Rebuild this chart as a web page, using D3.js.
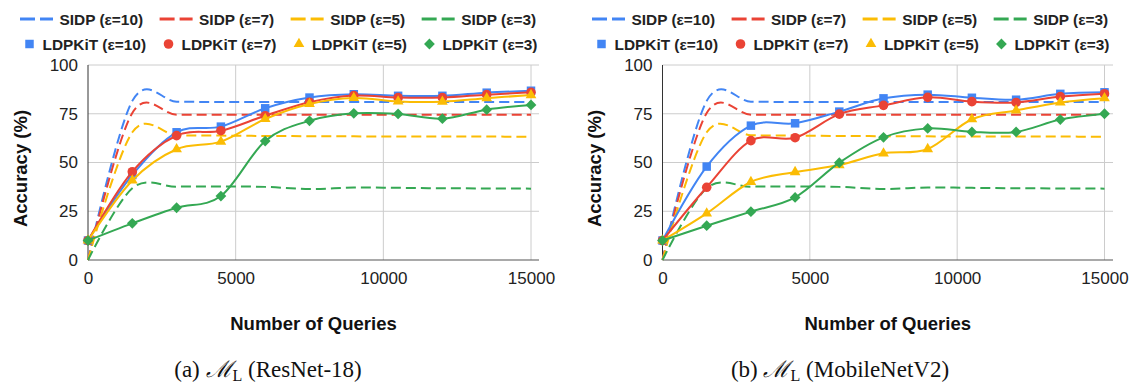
<!DOCTYPE html>
<html>
<head>
<meta charset="utf-8">
<script src="https://cdn.jsdelivr.net/npm/d3@7"></script>
<style>
  body { margin: 0; background: #fff; }
  svg { display: block; }
</style>
</head>
<body>
<svg id="chart" width="1130" height="386"></svg>
<script>
// Number of queries at which accuracy was measured
const queries = [0, 1500, 3000, 4500, 6000, 7500, 9000, 10500, 12000, 13500, 15000];
const xTickValues = [0, 5000, 10000, 15000];
const yTickValues = [0, 25, 50, 75, 100];

// SIDP baseline accuracy (%)
const sidpEps10 = [0, 81.6, 81.2, 81.0, 81.0, 81.0, 81.0, 81.0, 81.0, 81.0, 81.0];
const sidpEps7  = [0, 75.4, 74.5, 74.5, 74.5, 74.5, 74.5, 74.5, 74.5, 74.5, 74.5];
const sidpEps5  = [0, 65.5, 64.0, 63.8, 63.6, 63.5, 63.4, 63.3, 63.3, 63.3, 63.2];
const sidpEps3  = [0, 36.8, 37.6, 37.7, 37.5, 36.4, 37.2, 37.0, 36.8, 36.7, 36.6];

// LDPKiT accuracy (%) on ResNet-18
const resnetEps10 = [10, 43.6, 65.5, 68.4, 77.8, 83.3, 85.0, 84.2, 84.2, 85.8, 86.8];
const resnetEps7  = [10, 45.3, 63.8, 66.3, 74.0, 80.9, 84.3, 83.3, 83.3, 84.8, 86.0];
const resnetEps5  = [10, 40.8, 56.8, 60.7, 72.3, 80.0, 83.1, 81.3, 81.2, 83.0, 84.6];
const resnetEps3  = [10, 18.8, 26.8, 32.8, 61.0, 71.4, 75.2, 74.9, 72.5, 77.1, 79.5];

// LDPKiT accuracy (%) on MobileNetV2
const mobileEps10 = [10, 47.9, 68.9, 70.1, 76.1, 82.9, 84.8, 83.2, 82.2, 85.2, 86.0];
const mobileEps7  = [10, 37.3, 61.2, 62.7, 74.8, 79.3, 83.4, 81.2, 80.8, 83.8, 85.3];
const mobileEps5  = [10, 23.9, 40.0, 45.1, 48.7, 54.7, 56.9, 72.2, 76.7, 80.8, 83.0];
const mobileEps3  = [10, 17.6, 24.8, 32.1, 49.9, 62.9, 67.5, 65.7, 65.7, 72.0, 75.0];

const sidpLabels   = ["SIDP (ε=10)", "SIDP (ε=7)", "SIDP (ε=5)", "SIDP (ε=3)"];
const ldpkitLabels = ["LDPKiT (ε=10)", "LDPKiT (ε=7)", "LDPKiT (ε=5)", "LDPKiT (ε=3)"];
const captionTags  = ["(a)", "(b)"];
const modelNames   = ["ResNet-18", "MobileNetV2"];

const colors = ["#4285F4", "#EA4335", "#FBBC04", "#34A853"];
const markerTypes = ["square", "circle", "triangle", "diamond"];
const sansFont = "'Liberation Sans', Arial, sans-serif";
const serifFont = "'Liberation Serif', 'DejaVu Serif', serif";

const sidpSeries = [sidpEps10, sidpEps7, sidpEps5, sidpEps3];
const panels = [
  { ldpkit: [resnetEps10, resnetEps7, resnetEps5, resnetEps3], x0: 88, x1: 531, edge: 539, legendX: 20, captionX: 268 },
  { ldpkit: [mobileEps10, mobileEps7, mobileEps5, mobileEps3], x0: 662.5, x1: 1104.5, edge: 1113, legendX: 592, captionX: 840 }
];

const plotTop = 65, plotBottom = 260;
const legendFont = 15.4;
const svg = d3.select("#chart");

function markerPath(type) {
  if (type === "square") return d3.symbol(d3.symbolSquare, 72)();
  if (type === "circle") return d3.symbol(d3.symbolCircle, 72)();
  if (type === "triangle") return d3.symbol(d3.symbolTriangle, 50)();
  return d3.symbol(d3.symbolSquare, 58)();
}
function markerTransform(type, px, py) {
  return type === "diamond" ? `translate(${px},${py}) rotate(45)` : `translate(${px},${py})`;
}

panels.forEach((p, pi) => {
  const g = svg.append("g");
  const x = d3.scaleLinear().domain([0, 15000]).range([p.x0, p.x1]);
  const y = d3.scaleLinear().domain([0, 100]).range([plotBottom, plotTop]);

  // grid
  g.append("g").selectAll("line").data(yTickValues.filter(v => v > 0)).join("line")
    .attr("x1", p.x0).attr("x2", p.edge)
    .attr("y1", d => y(d)).attr("y2", d => y(d))
    .attr("stroke", "#cccccc").attr("stroke-width", 1);
  g.append("g").selectAll("line").data(xTickValues.filter(v => v > 0)).join("line")
    .attr("x1", d => x(d)).attr("x2", d => x(d))
    .attr("y1", plotTop).attr("y2", plotBottom)
    .attr("stroke", "#cccccc").attr("stroke-width", 1);

  // axis lines
  g.append("line").attr("x1", p.x0).attr("x2", p.x0).attr("y1", plotTop).attr("y2", plotBottom)
    .attr("stroke", "#333").attr("stroke-width", 1);
  g.append("line").attr("x1", p.x0).attr("x2", p.edge).attr("y1", plotBottom).attr("y2", plotBottom)
    .attr("stroke", "#555").attr("stroke-width", 1.2);

  // tick labels
  const yAxis = g.append("g").attr("transform", `translate(${p.x0},0)`)
    .call(d3.axisLeft(y).tickValues(yTickValues).tickSize(0).tickPadding(10));
  yAxis.select(".domain").remove();
  yAxis.selectAll("text").attr("font-family", sansFont).attr("font-size", 17).attr("fill", "#222");

  const xAxis = g.append("g").attr("transform", `translate(0,${plotBottom})`)
    .call(d3.axisBottom(x).tickValues(xTickValues).tickFormat(d3.format("d")).tickSize(0).tickPadding(12));
  xAxis.select(".domain").remove();
  xAxis.selectAll("text").attr("font-family", sansFont).attr("font-size", 17).attr("fill", "#222");

  // axis titles
  g.append("text")
    .attr("transform", `translate(${p.x0 - 68},${(plotTop + plotBottom) / 2 + 6}) rotate(-90)`)
    .attr("text-anchor", "middle").attr("dominant-baseline", "central")
    .attr("font-family", sansFont).attr("font-weight", "bold").attr("font-size", 18.5)
    .attr("fill", "#111").text("Accuracy (%)");
  g.append("text")
    .attr("x", (p.x0 + p.edge) / 2).attr("y", 330)
    .attr("text-anchor", "middle")
    .attr("font-family", sansFont).attr("font-weight", "bold").attr("font-size", 18.5)
    .attr("fill", "#111").text("Number of Queries");

  // series
  const line = d3.line()
    .x((d, i) => x(queries[i]))
    .y(d => y(d))
    .curve(d3.curveCardinal.tension(0));

  sidpSeries.forEach((s, si) => {
    g.append("path").datum(s).attr("d", line)
      .attr("fill", "none").attr("stroke", colors[si]).attr("stroke-width", 2)
      .attr("stroke-dasharray", "10,5");
  });

  p.ldpkit.forEach((s, si) => {
    g.append("path").datum(s).attr("d", line)
      .attr("fill", "none").attr("stroke", colors[si]).attr("stroke-width", 2);
    g.append("g").selectAll("path").data(s).join("path")
      .attr("d", markerPath(markerTypes[si]))
      .attr("transform", (d, i) => markerTransform(markerTypes[si], x(queries[i]), y(d)))
      .attr("fill", colors[si]);
  });

  // legend
  const lg = g.append("g");
  let cx = p.legendX;
  sidpLabels.forEach((label, si) => {
    const row = 19;
    lg.append("line").attr("x1", cx).attr("x2", cx + 15).attr("y1", row).attr("y2", row)
      .attr("stroke", colors[si]).attr("stroke-width", 3);
    lg.append("line").attr("x1", cx + 20).attr("x2", cx + 33).attr("y1", row).attr("y2", row)
      .attr("stroke", colors[si]).attr("stroke-width", 3);
    const t = lg.append("text").attr("x", cx + 39.5).attr("y", row)
      .attr("dominant-baseline", "central")
      .attr("font-family", sansFont).attr("font-weight", "bold").attr("font-size", legendFont)
      .attr("fill", "#222").text(label);
    cx += 39.5 + t.node().getComputedTextLength() + 16.5;
  });
  cx = p.legendX + 5;
  ldpkitLabels.forEach((label, si) => {
    const row = 44;
    lg.append("path").attr("d", markerPath(markerTypes[si]))
      .attr("transform", markerTransform(markerTypes[si], cx + 4.5, row))
      .attr("fill", colors[si]);
    const t = lg.append("text").attr("x", cx + 17.5).attr("y", row)
      .attr("dominant-baseline", "central")
      .attr("font-family", sansFont).attr("font-weight", "bold").attr("font-size", legendFont)
      .attr("fill", "#222").text(label);
    cx += 17.5 + t.node().getComputedTextLength() + 18;
  });

  // caption
  const cap = g.append("text").attr("x", p.captionX).attr("y", 377)
    .attr("text-anchor", "middle")
    .attr("font-family", serifFont).attr("font-size", 23).attr("fill", "#111");
  cap.append("tspan").text(captionTags[pi] + " ");
  cap.append("tspan").attr("font-family", "'DejaVu Serif', serif").attr("font-style", "italic").text("ℳ");
  cap.append("tspan").attr("font-size", 16).attr("dy", 4).text("L");
  cap.append("tspan").attr("dy", -4).text(" (" + modelNames[pi] + ")");
});
</script>
</body>
</html>
